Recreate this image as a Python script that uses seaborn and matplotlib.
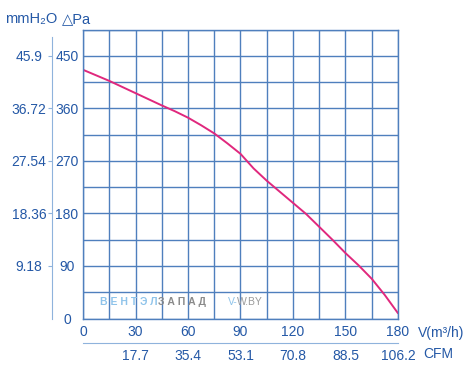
import numpy as np
import pandas as pd
import matplotlib
matplotlib.use("Agg")
import matplotlib.pyplot as plt
import seaborn as sns
from matplotlib.ticker import MultipleLocator, FixedLocator, FuncFormatter, FixedFormatter

# ---- data ----
flow = [0, 15, 30, 45, 52.5, 60, 67.5, 75, 82.5, 90, 97.5, 105, 112.5, 120, 127.5, 135, 142.5, 150, 157.5, 165, 172.5, 180]
pressure = [426, 407, 386, 365, 355, 344, 331, 317, 300, 282, 257, 236, 217, 198, 179, 157, 135, 112, 91, 68, 40, 9]
x_labels_vals = [0, 30, 60, 90, 120, 150, 180]
y_labels_vals = [0, 90, 180, 270, 360, 450]
mmh2o_ticks = [9.18, 18.36, 27.54, 36.72, 45.9]
mmh2o_labels = ["9.18", "18.36", "27.54", "36.72", "45.9"]
cfm_ticks = [17.7, 35.4, 53.1, 70.8, 88.5, 106.2]
cfm_labels = ["17.7", "35.4", "53.1", "70.8", "88.5", "106.2"]

sns.set_style("white")
plt.rcParams['font.family'] = ['Liberation Sans', 'DejaVu Sans']

TXT = '#2458a6'
GRID = '#4f7fbd'
LIGHT = '#8fb3dc'
CURVE = '#e0287d'

W, H = 471, 366
fig = plt.figure(figsize=(W / 100, H / 100), dpi=100)
ax = fig.add_axes([83 / W, 1 - 318.5 / H, 315 / W, 289 / H])

df = pd.DataFrame({"flow": flow, "pressure": pressure})
sns.lineplot(data=df, x="flow", y="pressure", ax=ax, color=CURVE, lw=1.4)

ax.set_xlim(0, 180)
ax.set_ylim(0, 495)
ax.set_xlabel("")
ax.set_ylabel("")

ax.xaxis.set_major_locator(MultipleLocator(15))
ax.yaxis.set_major_locator(MultipleLocator(45))
ax.xaxis.set_minor_locator(MultipleLocator(3))
ax.yaxis.set_minor_locator(MultipleLocator(9))
ax.xaxis.set_major_formatter(FuncFormatter(lambda v, p: f"{int(round(v))}" if round(v) in x_labels_vals else ""))
ax.yaxis.set_major_formatter(FuncFormatter(lambda v, p: f"{int(round(v))}" if round(v) in y_labels_vals else ""))

ax.grid(True, which='major', color=GRID, lw=1.0)
for s in ax.spines.values():
    s.set_color(GRID)
    s.set_linewidth(1.0)

ax.tick_params(which='major', length=0, labelsize=10, labelcolor=TXT)
ax.tick_params(axis='x', which='major', pad=5)
ax.tick_params(axis='y', which='major', pad=11.5)
for lab in ax.get_yticklabels():
    lab.set_horizontalalignment('center')
ax.tick_params(which='minor', direction='in', color=GRID, width=0.9, top=False, right=False)
ax.tick_params(axis='x', which='minor', length=4)
ax.tick_params(axis='y', which='minor', length=5)

# outer left axis (mmH2O)
secy = ax.secondary_yaxis(-31 / 315, functions=(lambda v: v * 0.102, lambda v: v / 0.102))
secy.yaxis.set_major_locator(FixedLocator(mmh2o_ticks))
secy.yaxis.set_major_formatter(FixedFormatter(mmh2o_labels))
secy.yaxis.set_minor_locator(FixedLocator([]))
secy.tick_params(direction='out', length=3, color=LIGHT, labelsize=10, labelcolor=TXT, pad=13.5)
for lab in secy.get_yticklabels():
    lab.set_horizontalalignment('center')
secy.spines['left'].set_color(LIGHT)
secy.spines['left'].set_bounds(0, 49.2)

# lower axis (CFM)
secx = ax.secondary_xaxis(-(343 - 318.5) / 289, functions=(lambda v: v * 0.59, lambda v: v / 0.59))
secx.xaxis.set_major_locator(FixedLocator(cfm_ticks))
secx.xaxis.set_major_formatter(FixedFormatter(cfm_labels))
secx.xaxis.set_minor_locator(FixedLocator([]))
secx.tick_params(length=0, labelsize=10, labelcolor=TXT, pad=4)
secx.spines['bottom'].set_color(LIGHT)

def fx(px):
    return px / W

def fy(py):
    return 1 - py / H

fig.text(fx(5), fy(19), "mmH₂O", fontsize=10.5, color=TXT, va='center', ha='left')
fig.text(fx(62), fy(19), "△Pa", fontsize=10.5, color=TXT, va='center', ha='left')
fig.text(fx(418), fy(333), "V(m³/h)", fontsize=10, color=TXT, va='center', ha='left')
fig.text(fx(423), fy(354), "CFM", fontsize=10, color=TXT, va='center', ha='left')

# watermark
fig.text(fx(100), fy(302), "В Е Н Т Э Л", fontsize=7.5, color='#8ec3ea', fontweight='bold', va='center', ha='left')
fig.text(fx(158), fy(302), "З А П А Д", fontsize=7.5, color='#8a8a8a', fontweight='bold', va='center', ha='left')
fig.text(fx(228), fy(302), "V-", fontsize=7.5, color='#8ec3ea', va='center', ha='left')
fig.text(fx(237), fy(302), "W.BY", fontsize=7.5, color='#9a9a9a', va='center', ha='left')

fig.savefig("out.png", dpi=100)
